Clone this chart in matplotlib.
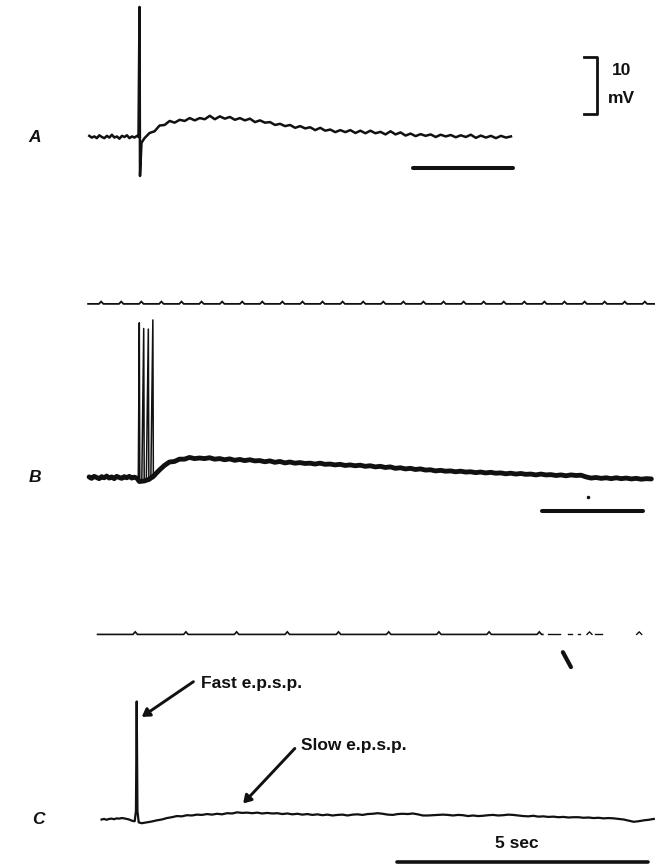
import matplotlib.pyplot as plt
import numpy as np

# scan geometry: 5 sec bar ~ 251 px, 10 mV bar ~ 57 px
PX_PER_S = 50.2
PX_PER_MV = 5.73
W, H = 655, 866
INK = "#111111"

# ---- A: one stimulus, fast spike then slow e.p.s.p. (t from stimulus, mV from rest)
A_pre_mV = [0.2, -0.1, 0.1, -0.2, 0.3, 0.0, -0.2, 0.2, -0.1, 0.4,
            -0.1, 0.1, -0.3, 0.2, 0.0, 0.3, -0.2, 0.1, -0.1, 0.2]   # from -1.0 s, every 0.05 s
A_spike_t = [-0.02, 0.0, 0.01, 0.04, 0.1]
A_spike_mV = [0.0, 22.7, -6.8, -1.0, -0.2]
A_post_mV = [0.7, 1.0, 2.0, 2.1, 2.8, 2.5, 3.0, 2.8, 3.3, 2.9,
             3.3, 3.1, 3.7, 3.1, 3.6, 3.2, 3.5, 3.0, 3.3, 2.9,
             3.2, 2.6, 2.9, 2.5, 2.6, 2.1, 2.3, 1.9, 2.1, 1.6,
             1.9, 1.5, 1.7, 1.2, 1.6, 1.1, 1.3, 0.85, 1.2, 0.85,
             1.2, 0.7, 1.1, 0.65, 1.1, 0.65, 0.9, 0.45, 1.0, 0.45,
             0.8, 0.25, 0.6, 0.15, 0.5, 0.2, 0.45, 0.0, 0.4, 0.1,
             0.35, -0.05, 0.3, 0.0, 0.4, -0.15, 0.25, -0.1, 0.2, -0.2,
             0.2, -0.1, 0.1]                                           # from 0.2 s, every 0.1 s

# ---- B: burst of four spikes, slow e.p.s.p.
B_pre_mV = [0.1, -0.15, 0.2, 0.0, -0.2, 0.15, -0.05, 0.25, -0.1, 0.1,
            -0.2, 0.2, 0.0, -0.15, 0.15, -0.05, 0.2, -0.1, 0.05, -0.1]  # from -1.0 s, every 0.05 s
B_burst_t = [-0.02, 0.0, 0.01, 0.05, 0.088, 0.098, 0.14, 0.18, 0.19, 0.23, 0.27, 0.28, 0.33]
B_burst_mV = [0.0, 27.0, -0.9, -0.6, 26.0, -0.8, -0.5, 25.9, -0.6, -0.2, 27.5, -0.2, 0.3]
B_dip_t = [0.0, 0.1, 0.2, 0.3]
B_dip_mV = [-0.7, -0.6, -0.3, 0.4]
B_post_mV = [1.3, 2.1, 2.7, 2.8, 3.2, 3.2, 3.5, 3.3, 3.4, 3.3,
             3.45, 3.2, 3.3, 3.1, 3.25, 3.0, 3.15, 2.95, 3.1, 2.9,
             2.95, 2.75, 2.9, 2.65, 2.8, 2.55, 2.7, 2.5, 2.6, 2.45,
             2.5, 2.35, 2.5, 2.3, 2.35, 2.2, 2.3, 2.1, 2.2, 2.05,
             2.15, 1.95, 2.05, 1.85, 1.95, 1.75, 1.85, 1.6, 1.7, 1.5,
             1.6, 1.4, 1.5, 1.3, 1.35, 1.15, 1.25, 1.1, 1.15, 1.0,
             1.1, 0.95, 1.0, 0.85, 0.95, 0.8, 0.9, 0.75, 0.8, 0.65,
             0.75, 0.6, 0.7, 0.55, 0.6, 0.45, 0.6, 0.45, 0.5, 0.35,
             0.45, 0.3, 0.45, 0.35, 0.4, 0.1, -0.1, 0.0, -0.15, -0.05,
             -0.2, -0.05, -0.2, -0.1, -0.25, -0.15, -0.3, -0.2, -0.25]  # from 0.4 s, every 0.1 s
B_clock_t = [-0.76, -0.36, 0.04, 0.44, 0.84, 1.24, 1.65, 2.05, 2.45, 2.85,
             3.25, 3.65, 4.05, 4.46, 4.86, 5.26, 5.66, 6.06, 6.46, 6.86,
             7.26, 7.67, 8.07, 8.47, 8.87, 9.27, 9.67, 10.07]

# ---- C: fast and slow e.p.s.p.
C_pre_mV = [0.0, 0.1, -0.05, 0.1, 0.15, 0.05, 0.2, 0.15, 0.25, 0.2, 0.1, 0.0, -0.2, -0.3]  # from -0.7 s
C_spike_t = [-0.04, -0.015, 0.0, 0.015, 0.04, 0.1, 0.2]
C_spike_mV = [-0.3, 1.5, 20.6, 1.5, -0.5, -0.65, -0.5]
C_post_mV = [-0.35, -0.15, 0.0, 0.25, 0.4, 0.6, 0.55, 0.75, 0.7, 0.85,
             0.8, 0.95, 0.85, 1.0, 0.9, 1.1, 1.05, 1.25, 1.15, 1.2,
             1.1, 1.2, 1.05, 1.15, 1.05, 1.1, 0.95, 1.05, 0.9, 1.0,
             0.85, 0.95, 0.8, 0.9, 0.75, 0.85, 0.7, 0.8, 0.85, 0.7,
             0.85, 0.9, 0.8, 0.95, 1.0, 1.1, 1.0, 0.85, 0.8, 0.95,
             1.0, 0.95, 1.05, 0.9, 0.7, 0.7, 0.75, 0.8, 0.85, 0.8,
             0.7, 0.8, 0.75, 0.6, 0.7, 0.6, 0.65, 0.75, 0.8, 0.7,
             0.75, 0.85, 0.8, 0.7, 0.6, 0.55, 0.65, 0.5, 0.55, 0.45,
             0.5, 0.4, 0.45, 0.35, 0.4, 0.4, 0.3, 0.35, 0.25, 0.3,
             0.2, 0.25, 0.2, 0.1, 0.0, -0.2, -0.4, -0.3, -0.15, -0.05,
             0.1]                                                       # from 0.3 s, every 0.1 s
C_clock_t = [-0.03, 0.98, 1.99, 3.00, 4.02, 5.02, 6.02, 7.02, 8.02, 9.02, 10.01]
C_clock_gaps = [(8.19, 8.43), (8.59, 8.67), (8.79, 8.83), (9.13, 9.27)]

plt.rcParams["font.family"] = ["Liberation Sans", "DejaVu Sans"]


def grid(start, step, values):
    return start + step * np.arange(len(values))


def panel_axes(fig, top, bottom, base, stim):
    ax = fig.add_axes([0, 1 - bottom / H, 1, (bottom - top) / H])
    ax.set_xlim(-stim / PX_PER_S, (W - stim) / PX_PER_S)
    ax.set_ylim(-(bottom - base) / PX_PER_MV, (base - top) / PX_PER_MV)
    ax.axis("off")
    return ax


def clock_line(ax, t0, t1, marks, level, lw=1.3, h=0.4, w=0.045):
    xs, ys = [t0], [level]
    for m in marks:
        if t0 < m < t1:
            xs += [m - w, m, m + w]
            ys += [level, level + h, level]
    xs.append(t1)
    ys.append(level)
    ax.plot(xs, ys, color=INK, lw=lw, solid_joinstyle="miter")


fig = plt.figure(figsize=(W / 100, H / 100), dpi=100)

# A
axA = panel_axes(fig, 0, 200, 137, 139.5)
tA = np.concatenate([grid(-1.0, 0.05, A_pre_mV), A_spike_t, grid(0.2, 0.1, A_post_mV)])
vA = np.concatenate([A_pre_mV, A_spike_mV, A_post_mV])
axA.plot(tA, vA, color=INK, lw=1.8)
axA.plot([5.45, 7.45], [-5.46, -5.46], color=INK, lw=2.9, solid_capstyle="round")
axA.plot([8.86, 9.12, 9.12, 8.86], [14.0, 14.0, 4.0, 4.0], color=INK, lw=2.0)
axA.text(9.6, 11.6, "10", ha="center", va="center", fontsize=12.5, fontweight="bold", color=INK)
axA.text(9.6, 6.7, "mV", ha="center", va="center", fontsize=12.5, fontweight="bold", color=INK)

# B
axB = panel_axes(fig, 200, 540, 477.5, 139.3)
clock_line(axB, -1.02, 10.3, B_clock_t, 30.3)
axB.plot(B_burst_t, B_burst_mV, color=INK, lw=1.1)
tB = np.concatenate([grid(-1.0, 0.05, B_pre_mV), B_dip_t, grid(0.4, 0.1, B_post_mV)])
vB = np.concatenate([B_pre_mV, B_dip_mV, B_post_mV])
axB.plot(tB, vB, color=INK, lw=3.5, solid_capstyle="round")
axB.plot([8.03, 10.04], [-5.8, -5.8], color=INK, lw=2.9, solid_capstyle="round")
axB.plot([8.93], [-3.35], "o", color=INK, ms=1.5)

# C
axC = panel_axes(fig, 540, 866, 819.5, 136.7)
clock_line(axC, -0.78, 8.09, C_clock_t, 32.3, lw=1.2, h=0.45)
for a, b in C_clock_gaps:
    axC.plot([a, b], [32.3, 32.3], color=INK, lw=1.0)
for m in C_clock_t[-2:]:
    axC.plot([m - 0.05, m, m + 0.05], [32.3, 32.75, 32.3], color=INK, lw=1.0)
axC.plot([8.49, 8.65], [29.2, 26.6], color=INK, lw=3.0, solid_capstyle="round")
tC = np.concatenate([grid(-0.7, 0.05, C_pre_mV), C_spike_t, grid(0.3, 0.1, C_post_mV)])
vC = np.concatenate([C_pre_mV, C_spike_mV, C_post_mV])
axC.plot(tC, vC, color=INK, lw=1.6)

arrow = dict(arrowstyle="-|>,head_length=0.45,head_width=0.28", color=INK, lw=2.1,
             shrinkA=0, shrinkB=0)
axC.annotate("", xy=(0.1, 17.9), xytext=(1.13, 24.05), arrowprops=arrow)
axC.text(1.29, 23.8, "Fast e.p.s.p.", ha="left", va="center", fontsize=12.5,
         fontweight="bold", color=INK)
axC.annotate("", xy=(2.12, 2.8), xytext=(3.15, 12.4), arrowprops=arrow)
axC.text(3.27, 13.0, "Slow e.p.s.p.", ha="left", va="center", fontsize=12.5,
         fontweight="bold", color=INK)

axC.plot([5.19, 10.19], [-7.36, -7.36], color=INK, lw=2.6, solid_capstyle="round")
axC.text(7.58, -4.15, "5 sec", ha="center", va="center", fontsize=12.5,
         fontweight="bold", color=INK)

for label, (x, y) in {"A": (35, 138), "B": (35, 478), "C": (38, 820)}.items():
    fig.text(x / W, 1 - y / H, label, ha="center", va="center", fontsize=12.5,
             fontstyle="italic", fontweight="bold", color=INK)

fig.savefig("out.png", dpi=100)
